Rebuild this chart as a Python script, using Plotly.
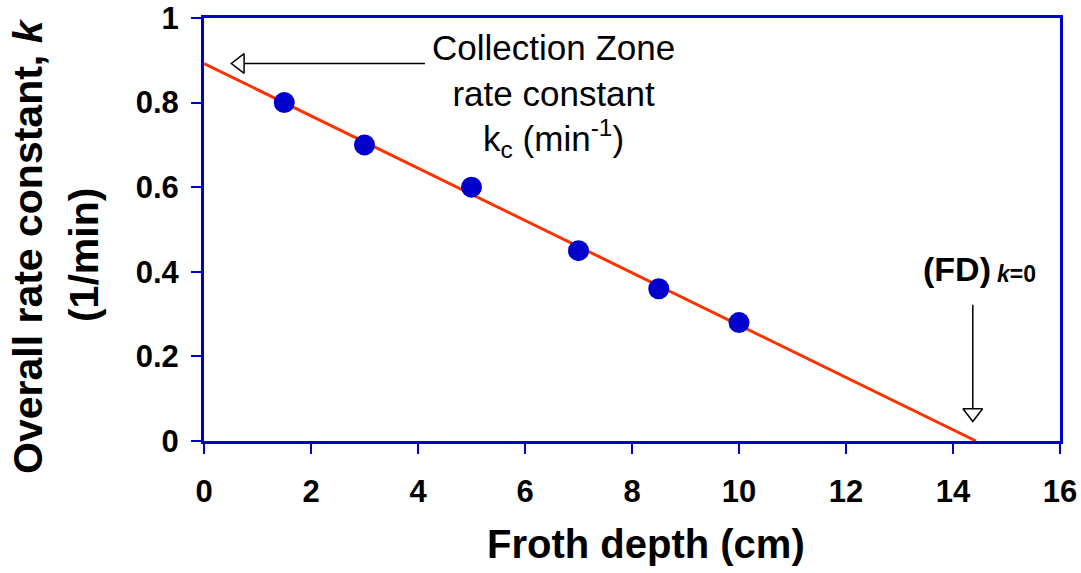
import numpy as np
import plotly.graph_objects as go

# Data
froth_depth = [1.5, 3.0, 5.0, 7.0, 8.5, 10.0]
rate_k = [0.80, 0.70, 0.60, 0.45, 0.36, 0.28]

x_ticks = [0, 2, 4, 6, 8, 10, 12, 14, 16]
y_ticks = [0, 0.2, 0.4, 0.6, 0.8, 1.0]
y_tick_text = ["0", "0.2", "0.4", "0.6", "0.8", "1"]

# linear fit through the data
slope, intercept = np.polyfit(froth_depth, rate_k, 1)
x_zero = -intercept / slope
fit_x = [0.0, x_zero]
fit_y = [intercept, 0.0]

FONT = "Arial, Liberation Sans, sans-serif"
BLUE = "#0000CC"
RED = "#FF3300"

fig = go.Figure()

fig.add_trace(go.Scatter(x=fit_x, y=fit_y, mode="lines",
                         line=dict(color=RED, width=3), showlegend=False,
                         cliponaxis=False))
fig.add_trace(go.Scatter(x=froth_depth, y=rate_k, mode="markers",
                         marker=dict(color=BLUE, size=21), showlegend=False))

# arrow for the collection zone rate constant (points to the intercept)
h_tip_x = 0.67
h_line_end = 4.13
fig.add_shape(type="line", x0=h_tip_x + 0.09, x1=h_line_end, y0=intercept, y1=intercept,
              line=dict(color="black", width=1.5))
fig.add_trace(go.Scatter(x=[h_tip_x], y=[intercept], mode="markers",
                         marker=dict(symbol="triangle-left-open", size=17,
                                     color="black", line=dict(width=1.5, color="black")),
                         showlegend=False, cliponaxis=False))

# arrow for froth depth at k = 0
v_x = 14.37
v_tip_y = 0.066
v_line_top = 0.322
fig.add_shape(type="line", x0=v_x, x1=v_x, y0=v_tip_y + 0.012, y1=v_line_top,
              line=dict(color="black", width=1.5))
fig.add_trace(go.Scatter(x=[v_x], y=[v_tip_y], mode="markers",
                         marker=dict(symbol="triangle-down-open", size=17,
                                     color="black", line=dict(width=1.5, color="black")),
                         showlegend=False, cliponaxis=False))

fig.add_annotation(x=6.54, y=0.816, xref="x", yref="y", showarrow=False,
                   text="Collection Zone<br>rate constant<br>k<sub>c</sub> (min<sup>-1</sup>)",
                   font=dict(family=FONT, size=35, color="black"),
                   align="center", xanchor="center", yanchor="middle")

fig.add_annotation(x=14.07, y=0.4066, xref="x", yref="y", showarrow=False,
                   text="<b>(FD)</b>",
                   font=dict(family=FONT, size=34, color="black"),
                   xanchor="center", yanchor="middle")
fig.add_annotation(x=15.18, y=0.395, xref="x", yref="y", showarrow=False,
                   text="<b><i>k</i>=0</b>",
                   font=dict(family=FONT, size=23, color="black"),
                   xanchor="center", yanchor="middle")

# y-axis title (two lines)
fig.add_annotation(x=-0.2056, y=0.461, xref="paper", yref="paper", showarrow=False,
                   text="<b>Overall rate constant, <i>k</i></b>", textangle=-90,
                   font=dict(family=FONT, size=41, color="black"),
                   xanchor="center", yanchor="middle")
fig.add_annotation(x=-0.14, y=0.44, xref="paper", yref="paper", showarrow=False,
                   text="<b>(1/min)</b>", textangle=-90,
                   font=dict(family=FONT, size=41, color="black"),
                   xanchor="center", yanchor="middle")

# x-axis title
fig.add_annotation(x=0.516, y=-0.2435, xref="paper", yref="paper", showarrow=False,
                   text="<b>Froth depth (cm)</b>",
                   font=dict(family=FONT, size=40, color="black"),
                   xanchor="center", yanchor="middle")

fig.update_xaxes(range=[0, 16], tickvals=x_ticks, ticks="outside", ticklen=10,
                 tickwidth=1.5, tickcolor=BLUE, showline=True, linewidth=3,
                 linecolor=BLUE, mirror=True, showgrid=False, zeroline=False,
                 automargin=False, ticklabelstandoff=11, ticklabeloverflow="allow",
                 tickfont=dict(family=FONT, size=31, color="black", weight="bold"))
fig.update_yaxes(range=[0, 1], tickvals=y_ticks, ticktext=y_tick_text,
                 ticks="outside", ticklen=10,
                 tickwidth=1.5, tickcolor=BLUE, showline=True, linewidth=3,
                 linecolor=BLUE, mirror=True, showgrid=False, zeroline=False,
                 automargin=False, ticklabelstandoff=6, ticklabeloverflow="allow",
                 tickfont=dict(family=FONT, size=31, color="black", weight="bold"))

fig.update_layout(width=1081, height=573, margin=dict(l=204, r=21, t=18, b=132),
                  plot_bgcolor="white", paper_bgcolor="white")

# remove the default page margin so the figure fills the window exactly
fig.write_html("out.html", config={"displayModeBar": False},
               post_script="document.body.style.margin='0';document.body.style.overflow='hidden';")
